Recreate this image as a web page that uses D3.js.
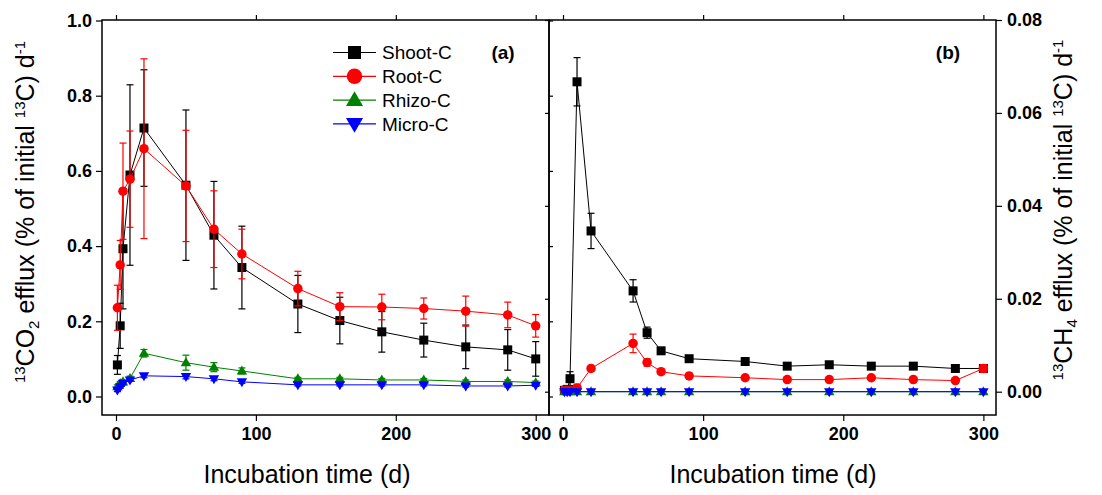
<!DOCTYPE html>
<html>
<head>
<meta charset="utf-8">
<script src="https://cdn.jsdelivr.net/npm/d3@7"></script>
<style>
  body { margin: 0; background: #fff; }
  svg { display: block; font-family: 'Liberation Sans', Arial, sans-serif; }
</style>
</head>
<body>
<svg id="chart" width="1102" height="495"></svg>
<script>
// ---- panel (a): 13CO2 efflux ----
const timesA = [1, 3, 5, 10, 20, 50, 70, 90, 130, 160, 190, 220, 250, 280, 300];
const shootA = [0.084, 0.188, 0.393, 0.589, 0.714, 0.562, 0.429, 0.343, 0.246, 0.202, 0.172, 0.150, 0.132, 0.124, 0.100];
const shootAErr = [0.025, 0.06, 0.16, 0.24, 0.155, 0.20, 0.143, 0.11, 0.076, 0.062, 0.054, 0.045, 0.058, 0.054, 0.046];
const rootA = [0.236, 0.350, 0.546, 0.578, 0.659, 0.560, 0.445, 0.379, 0.287, 0.239, 0.238, 0.234, 0.227, 0.217, 0.188];
const rootAErr = [0.06, 0.065, 0.128, 0.128, 0.239, 0.148, 0.102, 0.066, 0.046, 0.037, 0.034, 0.028, 0.04, 0.034, 0.03];
const rhizoA = [0.026, 0.035, 0.039, 0.048, 0.115, 0.090, 0.078, 0.068, 0.047, 0.047, 0.044, 0.044, 0.040, 0.040, 0.037];
const rhizoAErr = [0.005, 0.005, 0.005, 0.006, 0.01, 0.02, 0.012, 0.008, 0.004, 0.004, 0.004, 0.004, 0.004, 0.004, 0.004];
const microA = [0.017, 0.026, 0.035, 0.044, 0.055, 0.053, 0.047, 0.039, 0.031, 0.031, 0.031, 0.031, 0.028, 0.028, 0.030];
const microAErr = [0.004, 0.004, 0.004, 0.004, 0.005, 0.006, 0.005, 0.004, 0.003, 0.003, 0.003, 0.003, 0.003, 0.003, 0.003];

// ---- panel (b): 13CH4 efflux ----
const timesB = [1, 3, 5, 10, 20, 50, 60, 70, 90, 130, 160, 190, 220, 250, 280, 300];
const shootB = [0.0003, 0.0005, 0.0028, 0.0667, 0.0346, 0.0217, 0.0127, 0.0088, 0.0071, 0.0065, 0.0055, 0.0058, 0.0055, 0.0055, 0.0050, 0.0050];
const shootBErr = [0.0003, 0.0003, 0.0015, 0.0052, 0.0038, 0.0024, 0.0012, 0.0005, 0.0003, 0.0003, 0.0003, 0.0003, 0.0003, 0.0003, 0.0003, 0.0006];
const rootB = [0.0003, 0.0003, 0.0003, 0.0008, 0.0050, 0.0104, 0.0063, 0.0043, 0.0034, 0.0030, 0.0026, 0.0026, 0.0030, 0.0026, 0.0024, 0.0050];
const rootBErr = [0.0008, 0.0008, 0.0008, 0.0008, 0.0003, 0.0020, 0.0008, 0.0005, 0.0003, 0.0002, 0.0002, 0.0002, 0.0002, 0.0002, 0.0002, 0.0008];
const rhizoB = [0, 0, 0, 0, 0, 0, 0, 0, 0, 0, 0, 0, 0, 0, 0, 0];
const microB = [0, 0, 0, 0, 0, 0, 0, 0, 0, 0, 0, 0, 0, 0, 0, 0];
const zeroErrB = [0, 0, 0, 0, 0, 0, 0, 0, 0, 0, 0, 0, 0, 0, 0, 0];

const xTicks = [0, 100, 200, 300];
const yTicksA = [0, 0.2, 0.4, 0.6, 0.8, 1.0];
const yTicksB = [0, 0.02, 0.04, 0.06, 0.08];
const seriesNames = ['Shoot-C', 'Root-C', 'Rhizo-C', 'Micro-C'];
const colors = ['#000000', '#ff0000', '#008000', '#0000ff'];
const shapes = ['square', 'circle', 'up', 'down'];

const svg = d3.select('#chart');
const plotTop = 20, plotBottom = 415;
const midX = 549;

function markerPath(shape, s) {
  const h = s / 2;
  if (shape === 'square') return `M${-h},${-h}h${s}v${s}h${-s}Z`;
  if (shape === 'up') return `M0,${-h * 1.15}L${h * 1.1},${h * 0.75}L${-h * 1.1},${h * 0.75}Z`;
  if (shape === 'down') return `M0,${h * 1.15}L${h * 1.1},${-h * 0.75}L${-h * 1.1},${-h * 0.75}Z`;
  return d3.symbol(d3.symbolCircle, Math.PI * h * h)();
}

function drawPanel(x, y, times, series) {
  const g = svg.append('g');
  series.forEach((s, i) => {
    const pts = times.map((t, j) => ({ t: t, v: s.vals[j], e: s.err[j] }));
    const line = d3.line().x(d => x(d.t)).y(d => y(d.v));
    g.append('path')
      .datum(pts)
      .attr('d', line)
      .attr('fill', 'none')
      .attr('stroke', colors[i])
      .attr('stroke-width', 1);

    // error bars
    const eb = g.selectAll(null).data(pts.filter(d => d.e > 0)).enter().append('g')
      .attr('stroke', colors[i]).attr('stroke-width', 1.2);
    eb.append('line')
      .attr('x1', d => x(d.t)).attr('x2', d => x(d.t))
      .attr('y1', d => y(d.v - d.e)).attr('y2', d => y(d.v + d.e));
    eb.append('line')
      .attr('x1', d => x(d.t) - 3.5).attr('x2', d => x(d.t) + 3.5)
      .attr('y1', d => y(d.v + d.e)).attr('y2', d => y(d.v + d.e));
    eb.append('line')
      .attr('x1', d => x(d.t) - 3.5).attr('x2', d => x(d.t) + 3.5)
      .attr('y1', d => y(d.v - d.e)).attr('y2', d => y(d.v - d.e));

    g.selectAll(null).data(pts).enter().append('path')
      .attr('d', markerPath(shapes[i], shapes[i] === 'square' ? 9 : 9.5))
      .attr('transform', d => `translate(${x(d.t)},${y(d.v)})`)
      .attr('fill', colors[i]);
  });
}

function styleAxis(g, labels) {
  g.select('.domain').remove();
  g.selectAll('.tick line').attr('stroke', '#000').attr('stroke-width', 1.2);
  g.selectAll('.tick text')
    .attr('fill', '#000')
    .style('font-size', labels ? '18px' : '0px')
    .style('font-weight', 'bold');
}

// scales
const xA = d3.scaleLinear().domain([-10, 309.5]).range([102, midX]);
const yA = d3.scaleLinear().domain([0, 1]).range([396.5, 20.5]);
const xB = d3.scaleLinear().domain([-10, 309]).range([midX, 996]);
const yB = d3.scaleLinear().domain([0, 0.08]).range([391.7, 20]);

// axes panel a
svg.append('g').attr('transform', `translate(102,0)`)
  .call(d3.axisLeft(yA).tickValues(yTicksA).tickFormat(d3.format('.1f')).tickSize(6).tickPadding(4))
  .call(g => styleAxis(g, true));
svg.append('g').attr('transform', `translate(${midX},0)`)
  .call(d3.axisRight(yA).tickValues(yTicksA).tickSize(4).tickFormat(''))
  .call(g => styleAxis(g, false));
svg.append('g').attr('transform', `translate(0,${plotBottom})`)
  .call(d3.axisBottom(xA).tickValues(xTicks).tickSize(6).tickPadding(6))
  .call(g => styleAxis(g, true));
svg.append('g').attr('transform', `translate(0,${plotTop})`)
  .call(d3.axisTop(xA).tickValues(xTicks).tickSize(5).tickFormat(''))
  .call(g => styleAxis(g, false));

// axes panel b
svg.append('g').attr('transform', `translate(996,0)`)
  .call(d3.axisRight(yB).tickValues(yTicksB).tickFormat(d3.format('.2f')).tickSize(6).tickPadding(5))
  .call(g => styleAxis(g, true));
svg.append('g').attr('transform', `translate(${midX},0)`)
  .call(d3.axisLeft(yB).tickValues(yTicksB).tickSize(4).tickFormat(''))
  .call(g => styleAxis(g, false));
svg.append('g').attr('transform', `translate(0,${plotBottom})`)
  .call(d3.axisBottom(xB).tickValues(xTicks).tickSize(6).tickPadding(6))
  .call(g => styleAxis(g, true));
svg.append('g').attr('transform', `translate(0,${plotTop})`)
  .call(d3.axisTop(xB).tickValues(xTicks).tickSize(5).tickFormat(''))
  .call(g => styleAxis(g, false));

// data
drawPanel(xA, yA, timesA, [
  { vals: shootA, err: shootAErr },
  { vals: rootA, err: rootAErr },
  { vals: rhizoA, err: rhizoAErr },
  { vals: microA, err: microAErr }
]);
drawPanel(xB, yB, timesB, [
  { vals: shootB, err: shootBErr },
  { vals: rootB, err: rootBErr },
  { vals: rhizoB, err: zeroErrB },
  { vals: microB, err: zeroErrB }
]);

// frames
svg.append('rect').attr('x', 102).attr('y', plotTop).attr('width', midX - 102).attr('height', plotBottom - plotTop)
  .attr('fill', 'none').attr('stroke', '#000').attr('stroke-width', 1.5);
svg.append('rect').attr('x', midX).attr('y', plotTop).attr('width', 996 - midX).attr('height', plotBottom - plotTop)
  .attr('fill', 'none').attr('stroke', '#000').attr('stroke-width', 1.5);

// legend
const legend = svg.append('g').attr('transform', 'translate(333,52.5)');
seriesNames.forEach((name, i) => {
  const row = legend.append('g').attr('transform', `translate(0,${i * 23.8})`);
  row.append('line').attr('x1', 0).attr('x2', 43).attr('y1', 0).attr('y2', 0)
    .attr('stroke', colors[i]).attr('stroke-width', 1.2);
  row.append('path').attr('d', markerPath(shapes[i], shapes[i] === 'square' ? 13 : 15.5))
    .attr('transform', 'translate(21.5,0)').attr('fill', colors[i]);
  row.append('text').attr('x', 49).attr('y', 0).attr('dy', '0.36em')
    .style('font-size', '19px').text(name);
});

// panel labels
svg.append('text').attr('x', 503).attr('y', 52.5).attr('dy', '0.36em').attr('text-anchor', 'middle')
  .style('font-size', '19px').style('font-weight', 'bold').text('(a)');
svg.append('text').attr('x', 948).attr('y', 52.5).attr('dy', '0.36em').attr('text-anchor', 'middle')
  .style('font-size', '19px').style('font-weight', 'bold').text('(b)');

// axis titles
function yTitle(cx, cy, mol, sub) {
  const t = svg.append('text')
    .attr('transform', `translate(${cx},${cy}) rotate(-90)`)
    .attr('text-anchor', 'middle')
    .attr('dy', '0.36em')
    .style('font-size', '25px');
  t.append('tspan').style('font-size', '15px').attr('dy', -9).text('13');
  t.append('tspan').attr('dy', 9).text(mol);
  t.append('tspan').style('font-size', '15px').attr('dy', 5).text(sub);
  t.append('tspan').attr('dy', -5).text(' efflux (% of initial ');
  t.append('tspan').style('font-size', '15px').attr('dy', -9).text('13');
  t.append('tspan').attr('dy', 9).text('C) d');
  t.append('tspan').style('font-size', '15px').attr('dy', -9).text('-1');
}
yTitle(34, 212, 'CO', '2');
yTitle(1072, 210, 'CH', '4');

svg.append('text').attr('x', 307).attr('y', 483).attr('text-anchor', 'middle')
  .style('font-size', '25px').text('Incubation time (d)');
svg.append('text').attr('x', 773).attr('y', 483).attr('text-anchor', 'middle')
  .style('font-size', '25px').text('Incubation time (d)');
</script>
</body>
</html>
